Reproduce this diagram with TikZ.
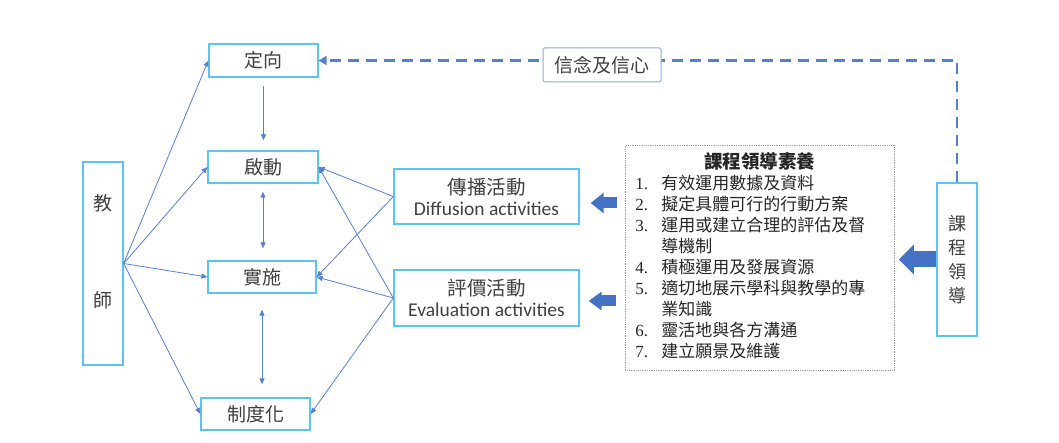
\documentclass[tikz,border=0pt]{standalone}
\usepackage{fontspec}
\setmainfont{Noto Sans CJK TC}
\newfontfamily\latinfont{Carlito}
\newfontfamily\numfont{Liberation Serif}
\usetikzlibrary{arrows.meta}

\definecolor{boxcyan}{RGB}{92,196,240}
\definecolor{linkblue}{RGB}{84,128,208}
\definecolor{arrowblue}{RGB}{68,114,196}
\definecolor{beliefblue}{RGB}{142,169,219}
\definecolor{textgray}{RGB}{64,64,64}

\begin{document}
\begin{tikzpicture}[x=1pt,y=-1pt,>={Triangle[length=6pt,width=5pt]},
    stage box/.style={draw=boxcyan,line width=1.3pt,fill=white,inner sep=0pt,
      text=textgray,font=\fontsize{19}{21}\selectfont},
    act box/.style={stage box,align=center,minimum width=185pt,font=\fontsize{19.5}{21}\selectfont},
    link/.style={->,color=linkblue,line width=0.8pt},
    block/.style={draw=arrowblue,line width=11pt,-{Triangle[length=13pt,width=20pt]}}]

    \useasboundingbox (0,0) rectangle (1059,443);

    % stages of the teacher
    \node[stage box,minimum width=109pt,minimum height=33pt] (O) at (263.5,60.5) {定向};
    \node[stage box,minimum width=110pt,minimum height=32pt] (L) at (263,167) {啟動};
    \node[stage box,minimum width=108pt,minimum height=32pt] (I) at (262,277) {實施};
    \node[stage box,minimum width=109pt,minimum height=32pt] (Z) at (255.5,414) {制度化};
    \node[stage box,minimum width=40pt,minimum height=203pt] (T) at (103,263.5)
        {\parbox{20pt}{\centering\fontsize{19}{97}\selectfont 教\\師\par\vspace*{24pt}}};

    % activities
    \node[act box,minimum height=55pt] (Dif) at (486.5,196.5) {傳播活動\\{\latinfont Diffusion activities}};
    \node[act box,minimum height=56pt] (Eva) at (486.5,298) {評價活動\\{\latinfont Evaluation activities}};

    % leadership
    \node[draw=gray!75,densely dotted,line width=0.8pt,anchor=north west,inner xsep=10pt,inner ysep=0pt,
        text width=249pt,minimum height=225pt,align=left,text=black!85,
        font=\fontsize{17}{21}\selectfont] (Lit) at (625,145)
        {\begin{tabular}{@{}p{26pt}@{}p{223pt}@{}}
            \multicolumn{2}{c}{\fontsize{18.5}{21}\selectfont\bfseries 課程領導素養}\\
            {\numfont 1.} & 有效運用數據及資料\\
            {\numfont 2.} & 擬定具體可行的行動方案\\
            {\numfont 3.} & 運用或建立合理的評估及督\\
                          & 導機制\\
            {\numfont 4.} & 積極運用及發展資源\\
            {\numfont 5.} & 適切地展示學科與教學的專\\
                          & 業知識\\
            {\numfont 6.} & 靈活地與各方溝通\\
            {\numfont 7.} & 建立願景及維護
        \end{tabular}};
    \node[stage box,minimum width=40pt,minimum height=153pt] (CL) at (957,259.5)
        {\parbox{20pt}{\centering\fontsize{18}{24}\selectfont 課\\程\\領\\導}};

    % belief line
    \draw[color=linkblue,line width=2.6pt,dash pattern=on 11pt off 7pt,
        -{Triangle[length=8pt,width=9pt]}] (CL.north) |- (O.east);
    \node[draw=beliefblue,line width=1pt,fill=white,rounded corners=1.5pt,inner sep=0pt,
        minimum width=118pt,minimum height=34pt,text=textgray,
        font=\fontsize{19}{21}\selectfont] (B) at (602,65) {信念及信心};

    \path[link] (T.east) edge (O.west) edge (L.west) edge (I.west) edge (Z.west);
    \path[link] (O.south) edge[shorten <=8pt,shorten >=10pt] (O.south |- L.north);
    \path[link,<->] (L.south) edge[shorten <=8pt,shorten >=12pt] (L.south |- I.north);
    \path[link,<->] (I.south) edge[shorten <=16pt,shorten >=13pt] (I.south |- Z.north);
    \path[link] (Dif.west) edge (L.east) edge (I.east);
    \path[link] (Eva.west) edge (L.east) edge (I.east) edge (Z.east);

    % block arrows
    \coordinate (difin) at ([yshift=-6.5pt]Dif.east);
    \coordinate (evain) at ([yshift=-3pt]Eva.east);
    \draw[block,shorten <=8pt,shorten >=11pt] (difin -| Lit.west) -- (difin);
    \draw[block,-{Triangle[length=13pt,width=18pt]},shorten <=9pt,shorten >=9pt] (evain -| Lit.west) -- (evain);
    \draw[block,line width=16pt,-{Triangle[length=15pt,width=29pt]},shorten >=4pt] (CL.west) -- (CL.west -| Lit.east);

\end{tikzpicture}
\end{document}
